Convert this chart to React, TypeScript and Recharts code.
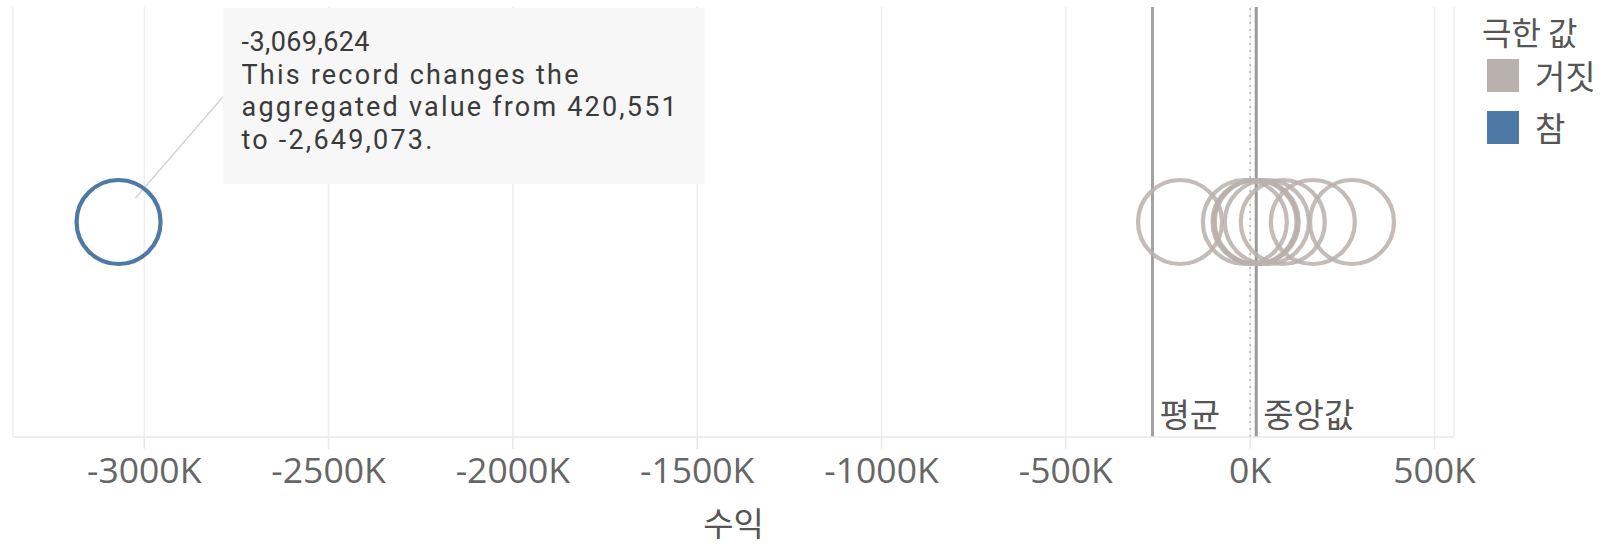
import React from 'react';
import { ScatterChart, Scatter, XAxis, YAxis, CartesianGrid, ReferenceLine, ReferenceDot } from 'recharts';

const legendTitle = '극한 값';
const categories = ['거짓', '참'];
const falseValues = [-190210, -14360, 11870, 15120, 17966, 45230, 88540, 170115, 276280];
const trueValues = [-3069624];
const xTicks = [-3000000, -2500000, -2000000, -1500000, -1000000, -500000, 0, 500000];
const xDomain = [-3356000, 553000];
const axisTitle = '수익';
const meanLabel = '평균';
const medianLabel = '중앙값';
const annotationLines = [
  '-3,069,624',
  'This record changes the',
  'aggregated value from 420,551',
  'to -2,649,073.',
];

const COLORS = ['#bab0ac', '#4e79a7'];
const KR_FONT = "'Noto Sans CJK KR', sans-serif";
const NUM_FONT = "'Open Sans', sans-serif";
const NOTE_FONT = "Roboto, sans-serif";

const allValues = [...falseValues, ...trueValues];
const mean = allValues.reduce((a, b) => a + b, 0) / allValues.length;
const sorted = [...allValues].sort((a, b) => a - b);
const median =
  sorted.length % 2 === 0
    ? (sorted[sorted.length / 2 - 1] + sorted[sorted.length / 2]) / 2
    : sorted[(sorted.length - 1) / 2];

const falseData = falseValues.map((v) => ({ x: v, y: 1 }));
const trueData = trueValues.map((v) => ({ x: v, y: 1 }));

const ring = (color: string, opacity: number) => (p: any) => (
  <circle cx={p.cx} cy={p.cy} r={42} fill="none" stroke={color} strokeWidth={4.2} strokeOpacity={opacity} />
);

const refLabel = (text: string) => (props: any) => {
  const vb = props.viewBox || {};
  return (
    <text x={vb.x + 7} y={vb.y + vb.height - 10} fill="#555" fontSize={33} fontFamily={KR_FONT}>
      {text}
    </text>
  );
};

const Annotation = (props: any) => {
  const { cx, cy } = props;
  if (cx == null || cy == null) return null;
  return (
    <g>
      <line x1={cx + 17} y1={cy - 24} x2={cx + 106} y2={cy - 127} stroke="#d0d0d0" strokeWidth={1.2} />
      <rect x={cx + 104} y={cy - 214} width={482} height={176} fill="#f7f7f7" />
      {annotationLines.map((t, i) => (
        <text
          key={i}
          x={cx + 123}
          y={cy - 171 + i * 32.7}
          fill="#3a3a3a"
          fontSize={27}
          letterSpacing={i === 0 ? 0.4 : 2.2}
          fontFamily={NOTE_FONT}
        >
          {t}
        </text>
      ))}
    </g>
  );
};

export default function App() {
  return (
    <div style={{ position: 'relative', width: 1606, height: 546, background: '#fff' }}>
      <style>{`body{margin:0}`}</style>
      <ScatterChart width={1606} height={546} margin={{ top: 7, right: 152, bottom: 9, left: 13 }}>
        <CartesianGrid horizontal={false} stroke="#eeeeee" strokeWidth={1.5} />
        <XAxis
          type="number"
          dataKey="x"
          domain={xDomain}
          ticks={xTicks}
          allowDataOverflow
          height={100}
          tickFormatter={(v: number) => `${v / 1000}K`}
          axisLine={{ stroke: '#e8e8e8', strokeWidth: 1.5 }}
          tickLine={{ stroke: '#e8e8e8', strokeWidth: 1.5 }}
          tickSize={12}
          tickMargin={9}
          tick={{ fill: '#666', fontSize: 35.5, fontFamily: NUM_FONT }}
          label={{ value: axisTitle, position: 'insideBottom', offset: 1, fill: '#555', fontSize: 33, fontFamily: KR_FONT }}
        />
        <YAxis
          type="number"
          dataKey="y"
          domain={[0, 2]}
          width={0}
          tick={false}
          tickLine={false}
          axisLine={{ stroke: '#e8e8e8', strokeWidth: 1.5 }}
        />
        <ReferenceDot x={trueValues[0]} y={1} r={0} shape={Annotation} ifOverflow="visible" />
        <Scatter data={trueData} fill={COLORS[1]} shape={ring(COLORS[1], 1)} isAnimationActive={false} />
        <Scatter data={falseData} fill={COLORS[0]} shape={ring(COLORS[0], 0.85)} isAnimationActive={false} />
        <ReferenceLine x={0} stroke="#b5b5b5" strokeWidth={1.5} strokeDasharray="2 5" />
        <ReferenceLine x={mean} stroke="#a3a3a3" strokeWidth={3} label={refLabel(meanLabel)} />
        <ReferenceLine x={median} stroke="#9a9a9a" strokeWidth={3} label={refLabel(medianLabel)} />
      </ScatterChart>
      <div style={{ position: 'absolute', left: 1482, top: 13, height: 36, lineHeight: '36px', fontSize: 32, color: '#555', fontFamily: KR_FONT, whiteSpace: 'nowrap' }}>
        {legendTitle}
      </div>
      {categories.map((c, i) => (
        <React.Fragment key={c}>
          <div style={{ position: 'absolute', left: 1487, top: 59 + i * 52, width: 32, height: 33, background: COLORS[i] }} />
          <div style={{ position: 'absolute', left: 1535, top: 57 + i * 52, height: 36, lineHeight: '36px', fontSize: 33, color: '#555', fontFamily: KR_FONT, whiteSpace: 'nowrap' }}>
            {c}
          </div>
        </React.Fragment>
      ))}
    </div>
  );
}
